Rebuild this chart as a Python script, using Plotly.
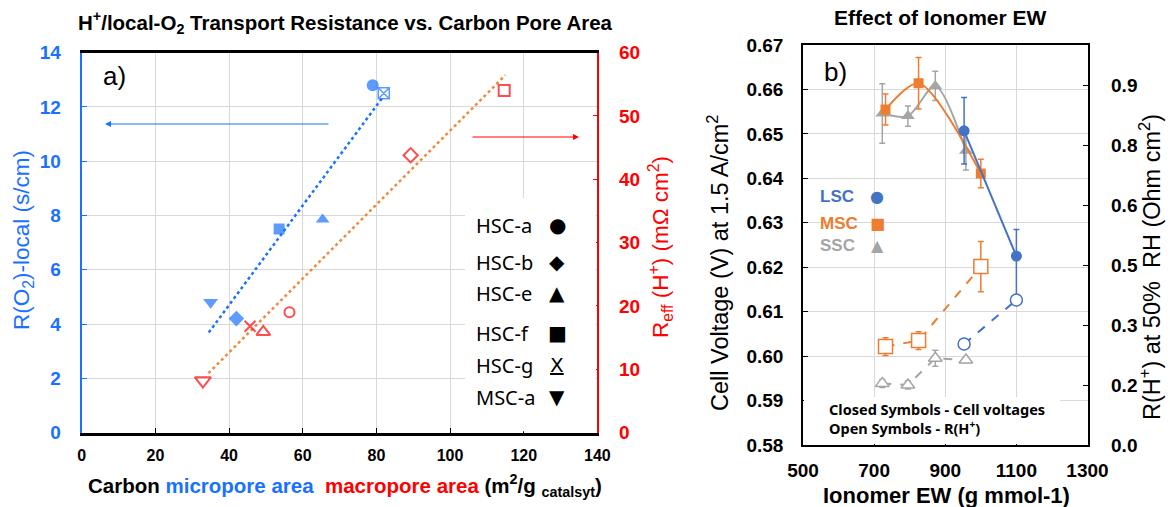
import numpy as np
import plotly.graph_objects as go

W, H = 1170, 507
def px(x): return x / W
def py(y): return 1 - y / H

# ---------------- Left chart data ----------------
samples = ["HSC-a", "HSC-b", "HSC-e", "HSC-f", "HSC-g", "MSC-a"]
micro_area = [79.0, 42.0, 65.4, 53.6, 82.0, 35.0]
r_o2_local = [12.8, 4.2, 7.85, 7.5, 12.5, 4.8]
macro_area = [56.4, 89.3, 49.3, 114.7, 45.7, 32.9]
r_eff_h = [19.0, 43.8, 15.9, 54.0, 16.8, 8.2]
left_x_ticks = [0, 20, 40, 60, 80, 100, 120, 140]
left_y_ticks = [0, 2, 4, 6, 8, 10, 12, 14]
left_y2_ticks = [0, 10, 20, 30, 40, 50, 60]

# ---------------- Right chart data ----------------
ew_lsc = [953, 1100]
v_lsc = [0.6507, 0.6225]
v_lsc_err_plus = [0.0075, 0.006]
v_lsc_err_minus = [0.0075, 0.0098]
r_lsc = [0.2525, 0.3625]
r_lsc_err = [0.008, 0.008]

ew_msc = [732, 825, 1000]
v_msc = [0.6555, 0.6614, 0.6411]
v_msc_err = [0.0035, 0.0058, 0.0032]
r_msc = [0.246, 0.261, 0.446]
r_msc_err = [0.022, 0.022, 0.063]

ew_ssc = [723, 795, 872, 958]
v_ssc = [0.6546, 0.654, 0.6608, 0.6462]
v_ssc_err = [0.0067, 0.0023, 0.0033, 0.0043]
r_ssc = [0.154, 0.150, 0.217, 0.2125]
r_ssc_err = [0.01, 0.01, 0.02, 0.006]

ew_ticks = [500, 700, 900, 1100, 1300]
volt_ticks = [0.58, 0.59, 0.60, 0.61, 0.62, 0.63, 0.64, 0.65, 0.66, 0.67]
rh_tickvals = [0, 0.15, 0.30, 0.45, 0.60, 0.75, 0.90]
rh_ticktext = ["0.0", "0.2", "0.3", "0.5", "0.6", "0.8", "0.9"]

BLUE = "#1971FF"
RED = "#FF0000"
ORANGE_DOT = "#F0883E"
C_LSC = "#4472C4"
C_MSC = "#ED7D31"
C_SSC = "#A5A5A5"
FONT = "Liberation Sans"

fig = go.Figure()

# ---- left: trend lines (linear fits) ----
b1 = np.polyfit(micro_area, r_o2_local, 1)
xs1 = np.array([min(micro_area) - 0.5, max(micro_area) - 0.5])
fig.add_trace(go.Scatter(x=xs1, y=np.polyval(b1, xs1), mode="lines",
                         line=dict(color=BLUE, width=2.5, dash="dot"),
                         xaxis="x", yaxis="y", showlegend=False, hoverinfo="skip"))
b2 = np.polyfit(macro_area, r_eff_h, 1)
xs2 = np.array([min(macro_area) + 1.5, max(macro_area) + 0.3])
fig.add_trace(go.Scatter(x=xs2, y=np.polyval(b2, xs2) + 0.8, mode="lines",
                         line=dict(color=ORANGE_DOT, width=2.5, dash="dot"),
                         xaxis="x", yaxis="y2", showlegend=False, hoverinfo="skip"))

blue_symbols = ["circle", "diamond", "triangle-up", "square", "square-x", "triangle-down"]
blue_sizes = [12, 12, 12, 11, 11, 13]
blue_fill = [BLUE, BLUE, BLUE, BLUE, "white", BLUE]
blue_lw = [0, 0, 0, 0, 1.5, 0]
fig.add_trace(go.Scatter(x=micro_area, y=r_o2_local, mode="markers", text=samples,
                         marker=dict(symbol=blue_symbols, size=blue_sizes, color=blue_fill,
                                     line=dict(color=BLUE, width=blue_lw)),
                         xaxis="x", yaxis="y", showlegend=False))
red_symbols = ["circle-open", "diamond-open", "triangle-up-open", "square-open", "x-thin-open", "triangle-down-open"]
red_sizes = [10, 11, 12, 11, 11, 14]
fig.add_trace(go.Scatter(x=macro_area, y=r_eff_h, mode="markers", text=samples,
                         marker=dict(symbol=red_symbols, size=red_sizes, color=RED,
                                     line=dict(color=RED, width=2)),
                         xaxis="x", yaxis="y2", showlegend=False))

# ---- right: open symbols R(H+) ----
def open_trace(x, y, e, color, sym, size):
    return go.Scatter(x=x, y=y, mode="lines+markers",
                      line=dict(color=color, width=2, dash="dash"),
                      marker=dict(symbol=sym, size=size, color="white", line=dict(color=color, width=1.5)),
                      error_y=dict(type="data", array=e, color=color, thickness=1.5, width=3),
                      xaxis="x2", yaxis="y4", showlegend=False)

fig.add_trace(open_trace(ew_ssc, r_ssc, r_ssc_err, C_SSC, "triangle-up", 12))
fig.add_trace(open_trace(ew_msc, r_msc, r_msc_err, C_MSC, "square", 14))
fig.add_trace(open_trace(ew_lsc, r_lsc, r_lsc_err, C_LSC, "circle", 12))

# ---- right: closed symbols cell voltage ----
fig.add_trace(go.Scatter(x=ew_ssc, y=v_ssc, mode="lines+markers",
                         line=dict(color=C_SSC, width=2, shape="spline", smoothing=0.8),
                         marker=dict(symbol="triangle-up", size=12, color=C_SSC),
                         error_y=dict(type="data", array=v_ssc_err, color=C_SSC, thickness=1.5, width=3),
                         xaxis="x2", yaxis="y3", showlegend=False))
fig.add_trace(go.Scatter(x=ew_msc, y=v_msc, mode="lines+markers",
                         line=dict(color=C_MSC, width=2, shape="spline", smoothing=0.8),
                         marker=dict(symbol="square", size=10, color=C_MSC),
                         error_y=dict(type="data", array=v_msc_err, color=C_MSC, thickness=1.5, width=3),
                         xaxis="x2", yaxis="y3", showlegend=False))
fig.add_trace(go.Scatter(x=ew_lsc, y=v_lsc, mode="lines+markers",
                         line=dict(color=C_LSC, width=2),
                         marker=dict(symbol="circle", size=11, color=C_LSC),
                         error_y=dict(type="data", array=v_lsc_err_plus, arrayminus=v_lsc_err_minus,
                                      color=C_LSC, thickness=1.5, width=3),
                         xaxis="x2", yaxis="y3", showlegend=False))

tick_bold = lambda size, color: dict(family=FONT, size=size, color=color, weight="bold")

fig.update_layout(
    width=W, height=H, margin=dict(l=0, r=0, t=0, b=0, autoexpand=False),
    paper_bgcolor="white", plot_bgcolor="white",
    xaxis=dict(domain=[px(81.7), px(597.4)], range=[0, 140], tickvals=left_x_ticks,
               showgrid=True, gridcolor="#D9D9D9", gridwidth=1, zeroline=False,
               showline=True, linecolor="black", linewidth=2.5, mirror=True,
               ticks="inside", ticklen=5, tickcolor="black", tickwidth=1,
               tickfont=tick_bold(16, "black"), ticklabelstandoff=6, anchor="y", automargin=False),
    yaxis=dict(domain=[py(432.6), py(52.6)], range=[0, 14], tickvals=left_y_ticks,
               showgrid=True, gridcolor="#D9D9D9", gridwidth=1, zeroline=False,
               showline=True, linecolor=BLUE, linewidth=2,
               ticks="inside", ticklen=5, tickcolor=BLUE,
               tickfont=tick_bold(19, BLUE), ticklabelstandoff=15, anchor="x", automargin=False),
    yaxis2=dict(overlaying="y", side="right", anchor="x", range=[0, 60], tickvals=left_y2_ticks,
                showgrid=False, zeroline=False, showline=True, linecolor=RED, linewidth=1.5,
                ticks="inside", ticklen=5, tickcolor=RED,
                tickfont=tick_bold(19, RED), ticklabelstandoff=16, automargin=False),
    xaxis2=dict(domain=[px(803), px(1087.5)], range=[500, 1300], tickvals=ew_ticks,
                showgrid=True, gridcolor="#D9D9D9", zeroline=False,
                showline=True, linecolor="black", linewidth=1.5, mirror=True,
                ticks="inside", ticklen=5, tickcolor="black",
                tickfont=tick_bold(19, "black"), ticklabelstandoff=7, anchor="y3", automargin=False),
    yaxis3=dict(domain=[py(445), py(45)], range=[0.58, 0.67], tickvals=volt_ticks, tickformat=".2f",
                showgrid=True, gridcolor="#D9D9D9", zeroline=False,
                showline=True, linecolor="black", linewidth=1.5,
                ticks="inside", ticklen=5, tickcolor="black",
                tickfont=tick_bold(19, "black"), ticklabelstandoff=14, anchor="x2", automargin=False),
    yaxis4=dict(overlaying="y3", side="right", anchor="x2", range=[0, 1],
                tickvals=rh_tickvals, ticktext=rh_ticktext,
                showgrid=False, zeroline=False, showline=True, linecolor="black", linewidth=1.5,
                ticks="inside", ticklen=5, tickcolor="black",
                tickfont=tick_bold(19, "black"), ticklabelstandoff=18, automargin=False),
)

shapes = [
    dict(type="rect", xref="paper", yref="paper", x0=px(465), x1=px(596), y0=py(431.2), y1=py(198),
         fillcolor="white", line=dict(width=0), layer="above"),
    dict(type="rect", xref="paper", yref="paper", x0=px(804), x1=px(1060), y0=py(444), y1=py(397),
         fillcolor="white", line=dict(width=0), layer="above"),
]
fig.update_layout(shapes=shapes)

ann = []
def A(x, y, text, size, color="black", angle=0, xanchor="center", family=FONT, bold=False):
    t = f"<b>{text}</b>" if bold else text
    ann.append(dict(x=px(x), y=py(y), xref="paper", yref="paper", text=t, showarrow=False,
                    font=dict(family=family, size=size, color=color), textangle=angle,
                    xanchor=xanchor, yanchor="middle"))

# titles
A(345, 22, "H<sup>+</sup>/local-O<sub>2</sub> Transport Resistance vs. Carbon Pore Area", 20.5, bold=True)
A(940, 18, "Effect of Ionomer EW", 21, bold=True)
# left axis titles
A(23, 240, "R(O<sub>2</sub>)-local (s/cm)", 22.5, BLUE, angle=-90)
A(660, 247, "R<sub>eff</sub> (H<sup>+</sup>) (mΩ cm<sup>2</sup>)", 22.5, RED, angle=-90)
A(345, 485, f"Carbon <span style='color:{BLUE}'>micropore area</span>&nbsp; "
            f"<span style='color:{RED}'>macropore area</span> (m<sup>2</sup>/g <sub>catalsyt</sub>)", 20.5, bold=True)
# right axis titles
A(718, 263, "Cell Voltage (V) at 1.5 A/cm<sup>2</sup>", 23.5, angle=-90)
A(1150, 267, "R(H<sup>+</sup>) at 50%&nbsp; RH (Ohm cm<sup>2</sup>)", 23.5, angle=-90)
A(946, 495, "Ionomer EW (g mmol-1)", 22, bold=True)
# panel labels
A(114, 76, "a)", 26)
A(835, 72, "b)", 26)
# left legend
leg_y = [225, 262, 293, 333, 365, 397]
glyphs = ["●", "◆", "▲", "■", "<u>X</u>", "▼"]
for name, yy, g in zip(samples, leg_y, glyphs):
    A(474, yy, name, 20, xanchor="left", family="Noto Sans")
    A(557, yy, g, 20, family="DejaVu Sans")
# right legend
for nm, yy, col, g in [("LSC", 196, C_LSC, "●"), ("MSC", 223, C_MSC, "■"), ("SSC", 245, C_SSC, "▲")]:
    A(818, yy, nm, 17, col, xanchor="left", bold=True)
    A(877, yy, g, 16, col, family="DejaVu Sans")
A(827, 409, "Closed Symbols - Cell voltages", 14.5, xanchor="left", family="Noto Sans", bold=True)
A(827, 427, "Open Symbols - R(H<sup>+</sup>)", 14.5, xanchor="left", family="Noto Sans", bold=True)

# arrows
ann.append(dict(x=px(105), y=py(124), ax=225, ay=0, xref="paper", yref="paper", text="",
                showarrow=True, arrowhead=2, arrowsize=1, arrowwidth=1.2, arrowcolor=BLUE))
ann.append(dict(x=px(579), y=py(137), ax=-108, ay=0, xref="paper", yref="paper", text="",
                showarrow=True, arrowhead=2, arrowsize=1, arrowwidth=1.2, arrowcolor=RED))
fig.update_layout(annotations=ann)

fig.write_html("out.html")
